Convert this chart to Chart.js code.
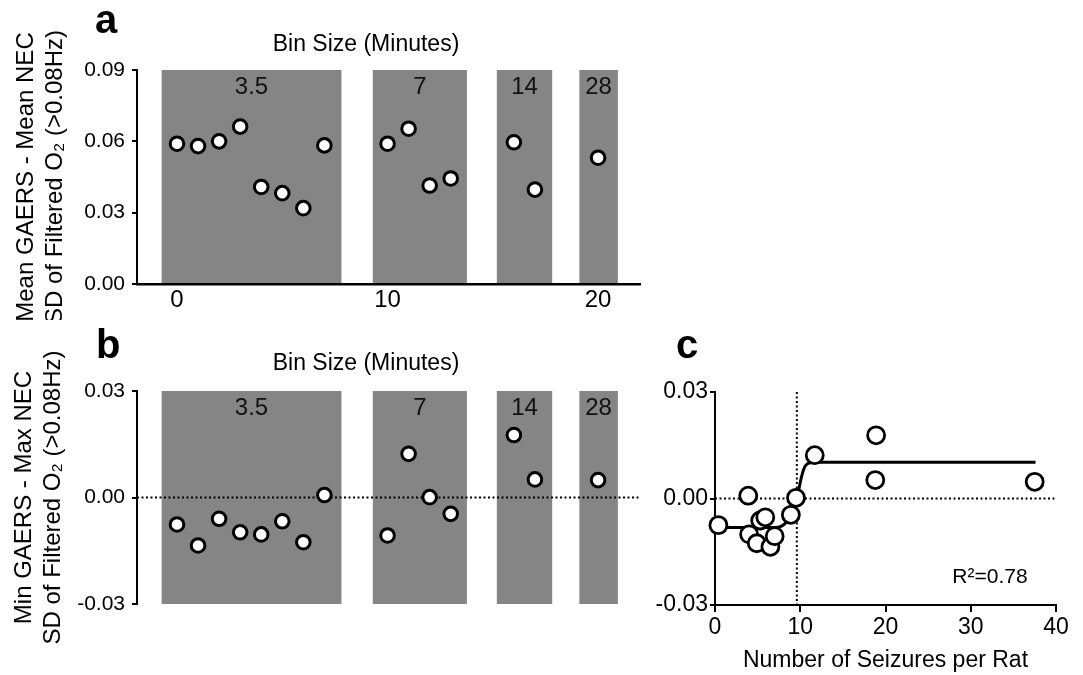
<!DOCTYPE html>
<html>
<head>
<meta charset="utf-8">
<title>Bin size panels</title>
<script src="https://cdn.jsdelivr.net/npm/chart.js@4.4.1/dist/chart.umd.min.js"></script>
<style>
  html, body { margin: 0; padding: 0; background: #fff; }
  body { width: 1083px; height: 675px; position: relative; overflow: hidden; }
  canvas { position: absolute; }
</style>
</head>
<body>
<canvas id="chartA" width="650" height="320" style="left:0;top:0"></canvas>
<canvas id="chartB" width="650" height="355" style="left:0;top:320px"></canvas>
<canvas id="chartC" width="433" height="355" style="left:650px;top:320px"></canvas>
<script>
// --- data ---
const binPos = [0, 1, 2, 3, 4, 5, 6, 7, 10, 11, 12, 13, 16, 17, 20];
const meanDiff = [0.0590, 0.0580, 0.0600, 0.0662, 0.0408, 0.0382, 0.0319, 0.0583,
                  0.0590, 0.0653, 0.0414, 0.0444, 0.0596, 0.0397, 0.0531];
const minMaxDiff = [-0.0076, -0.0135, -0.0060, -0.0098, -0.0104, -0.0067, -0.0126, 0.0007,
                    -0.0107, 0.0123, 0.0001, -0.0046, 0.0176, 0.0051, 0.0049];

const binLabels = ['3.5', '7', '14', '28'];
const binStart = [-0.73, 9.30, 15.19, 19.11];
const binEnd = [7.81, 13.77, 17.82, 20.94];

const seizures = [0.4, 3.9, 4.0, 4.9, 5.3, 5.9, 6.5, 7.0, 8.9, 9.5, 11.7, 18.9, 18.8, 37.5];
const seizureDiff = [-0.0075, 0.0008, -0.0101, -0.0126, -0.0062, -0.0053, -0.0136, -0.0106,
                     -0.0046, 0.0002, 0.0122, 0.0178, 0.0052, 0.0047];
const fitX = [0.4, 7.0, 7.8, 8.4, 9.0, 9.4, 9.8, 10.2, 10.6, 11.2, 12.0, 37.6];
const fitY = [-0.0082, -0.0082, -0.0078, -0.0066, -0.0046, -0.0024, 0.0022, 0.0066,
              0.0092, 0.0101, 0.0102, 0.0102];
const thresholdX = 9.6;

const xTicksAB = [0, 10, 20];
const yTicksA = [0, 0.03, 0.06, 0.09];
const yTicksB = [-0.03, 0, 0.03];
const xTicksC = [0, 10, 20, 30, 40];

const FONT = '"Liberation Sans", Arial, Helvetica, sans-serif';
Chart.defaults.font.family = FONT;
Chart.defaults.color = '#000';

const fmt2 = v => (Math.abs(v) < 1e-9 ? 0 : v).toFixed(2);

// grey bin-size bands behind the points, placed with the x/y scales
const binBands = {
  id: 'binBands',
  beforeDraw(chart) {
    const {ctx, scales: {x, y}} = chart;
    const top = y.getPixelForValue(y.max), bottom = y.getPixelForValue(y.min);
    ctx.save();
    binStart.forEach((s, i) => {
      const l = x.getPixelForValue(s), r = x.getPixelForValue(binEnd[i]);
      ctx.fillStyle = '#858585';
      ctx.fillRect(l, top, r - l, bottom - top);
      ctx.fillStyle = '#111';
      ctx.font = '24px ' + FONT;
      ctx.textAlign = 'center';
      ctx.textBaseline = 'alphabetic';
      ctx.fillText(binLabels[i], (l + r) / 2, top + 24);
    });
    ctx.restore();
  }
};

// dotted reference lines
const refLines = {
  id: 'refLines',
  beforeDatasetsDraw(chart, args, opts) {
    const {ctx, scales: {x, y}} = chart;
    ctx.save();
    ctx.strokeStyle = '#000';
    ctx.lineWidth = 2;
    ctx.setLineDash([2, 2.5]);
    (opts.h || []).forEach(v => {
      const py = y.getPixelForValue(v);
      ctx.beginPath();
      ctx.moveTo(x.getPixelForValue(x.min), py);
      ctx.lineTo(x.getPixelForValue(x.max), py);
      ctx.stroke();
    });
    (opts.v || []).forEach(v => {
      const px = x.getPixelForValue(v);
      ctx.beginPath();
      ctx.moveTo(px, y.getPixelForValue(y.max));
      ctx.lineTo(px, y.getPixelForValue(y.min));
      ctx.stroke();
    });
    ctx.restore();
  }
};

// panel letters, headings, annotations
const noteText = {
  id: 'noteText',
  afterDraw(chart, args, opts) {
    const ctx = chart.ctx;
    ctx.save();
    (opts.items || []).forEach(it => {
      ctx.font = it.font;
      ctx.fillStyle = '#000';
      ctx.textAlign = it.align || 'left';
      ctx.textBaseline = 'alphabetic';
      ctx.fillText(it.text, it.x, it.y);
    });
    ctx.restore();
  }
};

function tickList(values) {
  return scale => { scale.ticks = values.map(v => ({value: v})); };
}

function yAxis(min, max, ticks, title, titlePad) {
  return {
    min: min, max: max,
    afterBuildTicks: tickList(ticks),
    afterFit: s => { s.width = 137; },
    grid: {drawOnChartArea: false, tickLength: 5, color: '#000', lineWidth: 2},
    border: {color: '#000', width: 2},
    ticks: {font: {size: 21}, padding: 7, callback: fmt2},
    title: {display: true, text: title, font: {size: 24, lineHeight: 1.2}, padding: {top: titlePad, bottom: 0}}
  };
}

const dotStyle = {
  pointRadius: 6.8, pointBorderWidth: 3, pointBackgroundColor: '#fff', pointBorderColor: '#000', clip: false
};

// --- panel a ---
new Chart(document.getElementById('chartA'), {
  type: 'scatter',
  data: {datasets: [Object.assign({data: binPos.map((x, i) => ({x: x, y: meanDiff[i]}))}, dotStyle)]},
  options: {
    responsive: false, animation: false, events: [],
    layout: {padding: {top: 70, right: 4, bottom: 0, left: 0}},
    scales: {
      x: {
        type: 'linear', min: -1.9, max: 22,
        afterBuildTicks: tickList(xTicksAB),
        afterFit: s => { s.height = 36; },
        grid: {drawOnChartArea: false, drawTicks: false},
        border: {color: '#000', width: 2.5},
        ticks: {font: {size: 24}, padding: 2, maxRotation: 0, autoSkip: false}
      },
      y: yAxis(0, 0.09, yTicksA, ['Mean GAERS - Mean NEC', 'SD of Filtered O\u2082 (>0.08Hz)'], 12)
    },
    plugins: {
      legend: {display: false}, tooltip: {enabled: false},
      noteText: {items: [
        {text: 'a', x: 95, y: 33, font: 'bold 40px ' + FONT},
        {text: 'Bin Size (Minutes)', x: 366, y: 51, font: '23px ' + FONT, align: 'center'}
      ]}
    }
  },
  plugins: [binBands, refLines, noteText]
});

// --- panel b ---
new Chart(document.getElementById('chartB'), {
  type: 'scatter',
  data: {datasets: [Object.assign({data: binPos.map((x, i) => ({x: x, y: minMaxDiff[i]}))}, dotStyle)]},
  options: {
    responsive: false, animation: false, events: [],
    layout: {padding: {top: 71, right: 4, bottom: 71, left: 0}},
    scales: {
      x: {type: 'linear', min: -1.9, max: 22, display: false},
      y: yAxis(-0.03, 0.03, yTicksB, ['Min GAERS - Max NEC', 'SD of Filtered O\u2082 (>0.08Hz)'], 10)
    },
    plugins: {
      legend: {display: false}, tooltip: {enabled: false},
      refLines: {h: [0]},
      noteText: {items: [
        {text: 'b', x: 96, y: 38, font: 'bold 40px ' + FONT},
        {text: 'Bin Size (Minutes)', x: 366, y: 50, font: '23px ' + FONT, align: 'center'}
      ]}
    }
  },
  plugins: [binBands, refLines, noteText]
});

// --- panel c ---
new Chart(document.getElementById('chartC'), {
  type: 'scatter',
  data: {datasets: [
    Object.assign({data: seizures.map((x, i) => ({x: x, y: seizureDiff[i]})), order: 1},
      dotStyle, {pointRadius: 8.5, pointBorderWidth: 2.8}),
    {
      data: fitX.map((x, i) => ({x: x, y: fitY[i]})), order: 2,
      showLine: true, borderColor: '#000', borderWidth: 3, pointRadius: 0,
      cubicInterpolationMode: 'monotone', tension: 0.4, clip: false
    }
  ]},
  options: {
    responsive: false, animation: false, events: [],
    layout: {padding: {top: 72, right: 27, bottom: 0, left: 0}},
    scales: {
      x: {
        type: 'linear', min: 0, max: 40,
        afterBuildTicks: tickList(xTicksC),
        afterFit: s => { s.height = 70; },
        grid: {drawOnChartArea: false, tickLength: 7, color: '#000', lineWidth: 2},
        border: {color: '#000', width: 2},
        ticks: {font: {size: 23}, padding: 2, maxRotation: 0, autoSkip: false},
        title: {display: true, text: 'Number of Seizures per Rat', font: {size: 23, lineHeight: 1.2}, padding: {top: 0, bottom: 1}}
      },
      y: {
        min: -0.03, max: 0.03,
        afterBuildTicks: tickList(yTicksB),
        afterFit: s => { s.width = 65; },
        grid: {drawOnChartArea: false, tickLength: 5, color: '#000', lineWidth: 2},
        border: {color: '#000', width: 2},
        ticks: {font: {size: 23}, padding: 2, callback: fmt2}
      }
    },
    plugins: {
      legend: {display: false}, tooltip: {enabled: false},
      refLines: {h: [0], v: [thresholdX]},
      noteText: {items: [
        {text: 'c', x: 26, y: 38, font: 'bold 40px ' + FONT},
        {text: 'R\u00b2=0.78', x: 340, y: 263, font: '21px ' + FONT, align: 'center'}
      ]}
    }
  },
  plugins: [refLines, noteText]
});
</script>
</body>
</html>
